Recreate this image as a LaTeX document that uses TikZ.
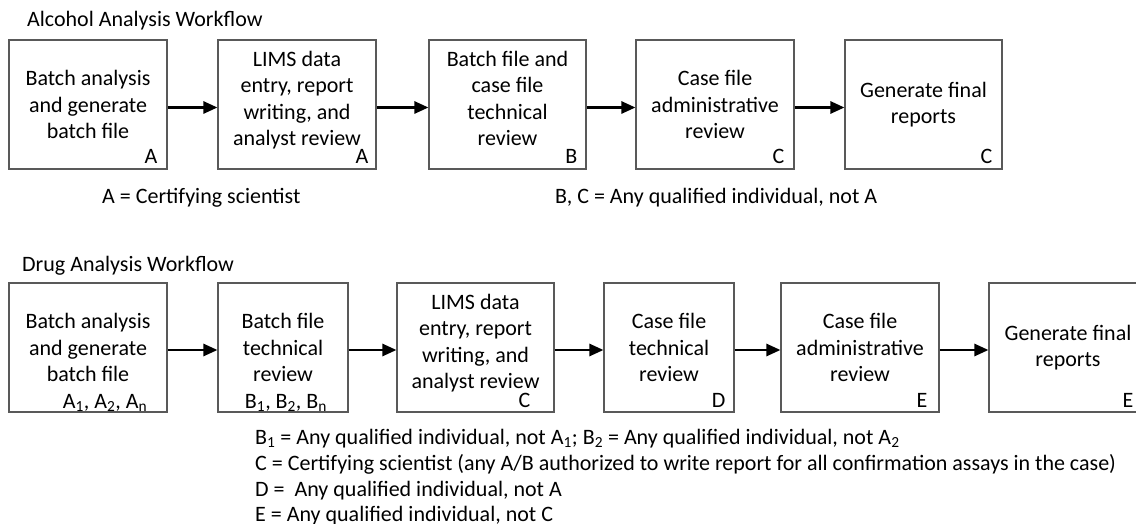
\documentclass[tikz,border=0pt]{standalone}
\usepackage{fontspec}
\setmainfont{Carlito}
\usepackage{tikz}
\usetikzlibrary{arrows.meta}

\begin{document}
\begin{tikzpicture}[x=1bp,y=-1bp,
  txt/.style={font=\fontsize{22bp}{26.5bp}\selectfont},
  stage/.style={txt,draw=black!65,line width=1.1bp,minimum height=129bp,align=center,inner sep=0pt},
  tall/.style={text depth=12bp},
  who/.style={txt,anchor=base east,inner sep=0pt},
  note/.style={txt,anchor=base west,inner sep=0pt},
  flow/.style={-{Triangle[length=14bp,width=12bp]},line width=2.6bp}]
  \useasboundingbox (0,0) rectangle (1136,524);

  \node [note] (t1) at (27,27) {Alcohol Analysis Workflow};
  \node [stage,minimum width=158bp] (a1) at (88,104.5) {Batch analysis\\and generate\\batch file};
  \node [stage,tall,minimum width=158bp] (a2) at (297,104.5) {LIMS data\\entry, report\\writing, and\\analyst review};
  \node [stage,tall,minimum width=157bp] (a3) at (507.5,104.5) {Batch file and\\case file\\technical\\review};
  \node [stage,minimum width=158bp] (a4) at (715,104.5) {Case file\\administrative\\review};
  \node [stage,minimum width=157bp] (a5) at (923.5,104.5) {Generate final\\reports};
  \node [who] (a1w) at ([shift={(-10,-6)}]a1.south east) {A};
  \node [who] (a2w) at ([shift={(-8,-6)}]a2.south east) {A};
  \node [who] (a3w) at ([shift={(-9,-6)}]a3.south east) {B};
  \node [who] (a4w) at ([shift={(-10,-6)}]a4.south east) {C};
  \node [who] (a5w) at ([shift={(-10,-6)}]a5.south east) {C};
  \draw [flow] ([yshift=-3bp]a1.east) -- ([yshift=-3bp]a2.west);
  \draw [flow] ([yshift=-3bp]a2.east) -- ([yshift=-3bp]a3.west);
  \draw [flow] ([yshift=-3bp]a3.east) -- ([yshift=-3bp]a4.west);
  \draw [flow] ([yshift=-3bp]a4.east) -- ([yshift=-3bp]a5.west);
  \node [note] (k1) at (102,204) {A = Certifying scientist};
  \node [note] (k2) at (555,204) {B, C = Any qualified individual, not A};

  \node [note] (t2) at (22,272) {Drug Analysis Workflow};
  \node [stage,minimum width=158bp] (d1) at (88,347.5) {Batch analysis\\and generate\\batch file};
  \node [stage,minimum width=130bp] (d2) at (283,347.5) {Batch file\\technical\\review};
  \node [stage,tall,minimum width=157bp] (d3) at (475.5,347.5) {LIMS data\\entry, report\\writing, and\\analyst review};
  \node [stage,minimum width=130bp] (d4) at (669,347.5) {Case file\\technical\\review};
  \node [stage,minimum width=158bp] (d5) at (860,347.5) {Case file\\administrative\\review};
  \node [stage,minimum width=158bp] (d6) at (1068,347.5) {Generate final\\reports};
  \node [note,anchor=base] (d1w) at (105,408) {A\textsubscript{1}, A\textsubscript{2}, A\textsubscript{n}};
  \node [note,anchor=base] (d2w) at (286,408) {B\textsubscript{1}, B\textsubscript{2}, B\textsubscript{n}};
  \node [who] (d3w) at ([shift={(-24,-5)}]d3.south east) {C};
  \node [who] (d4w) at ([shift={(-9,-5)}]d4.south east) {D};
  \node [who] (d5w) at ([shift={(-12,-5)}]d5.south east) {E};
  \node [who] (d6w) at ([shift={(-14,-5)}]d6.south east) {E};
  \draw [flow] ([yshift=-2.5bp]d1.east) -- ([yshift=-2.5bp]d2.west);
  \draw [flow] ([yshift=-2.5bp]d2.east) -- ([yshift=-2.5bp]d3.west);
  \draw [flow] ([yshift=-2.5bp]d3.east) -- ([yshift=-2.5bp]d4.west);
  \draw [flow] ([yshift=-2.5bp]d4.east) -- ([yshift=-2.5bp]d5.west);
  \draw [flow] ([yshift=-2.5bp]d5.east) -- ([yshift=-2.5bp]d6.west);
  \node [note] (l1) at (255,444) {B\textsubscript{1} = Any qualified individual, not A\textsubscript{1}; B\textsubscript{2} = Any qualified individual, not A\textsubscript{2}};
  \node [note] (l2) at (255,470) {C = Certifying scientist (any A/B authorized to write report for all confirmation assays in the case)};
  \node [note] (l3) at (255,496) {D =~ Any qualified individual, not A};
  \node [note] (l4) at (255,521) {E = Any qualified individual, not C};
\end{tikzpicture}
\end{document}
